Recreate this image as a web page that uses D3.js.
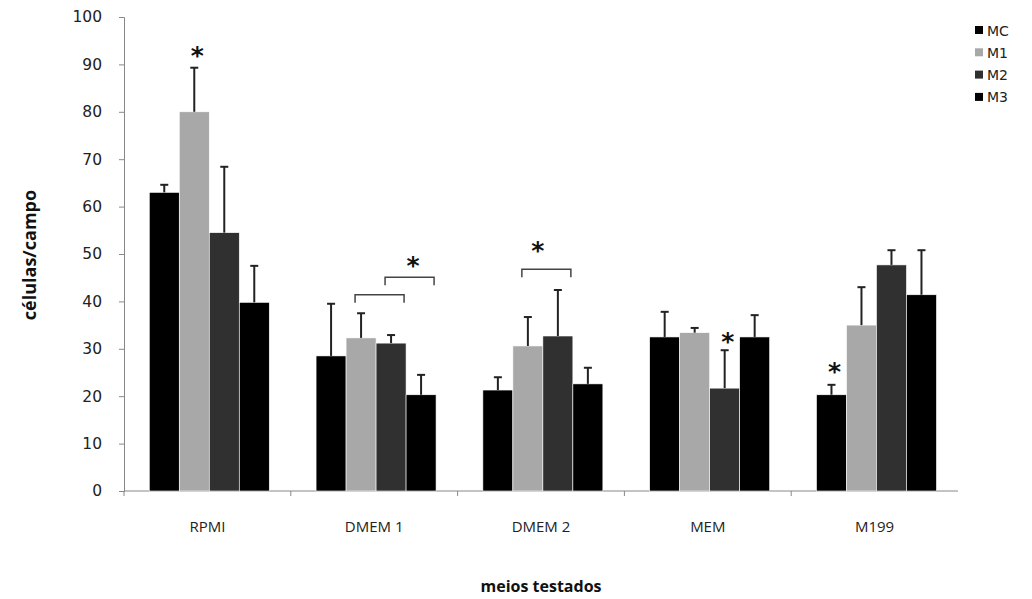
<!DOCTYPE html>
<html>
<head>
<meta charset="utf-8">
<script src="https://cdn.jsdelivr.net/npm/d3@7"></script>
<style>
  body { margin: 0; background: #fff; }
  svg { display: block; }
  .tick text { fill: #222; }
</style>
</head>
<body>
<div id="chart"></div>
<script>
const categories = ["RPMI", "DMEM 1", "DMEM 2", "MEM", "M199"];
const seriesNames = ["MC", "M1", "M2", "M3"];
const seriesColors = ["#000000", "#a8a8a8", "#303030", "#000000"];

// mean values per series, one per category
const MC = [63, 28.5, 21.3, 32.5, 20.3];
const M1 = [80, 32.3, 30.6, 33.4, 35];
const M2 = [54.5, 31.2, 32.7, 21.7, 47.7];
const M3 = [39.8, 20.3, 22.6, 32.5, 41.4];

// upper error (top of whisker)
const MC_err = [64.6, 39.5, 24, 37.8, 22.4];
const M1_err = [89.3, 37.5, 36.7, 34.4, 43];
const M2_err = [68.4, 32.9, 42.4, 29.7, 50.8];
const M3_err = [47.5, 24.5, 26, 37.1, 50.8];

const yTicks = [0, 10, 20, 30, 40, 50, 60, 70, 80, 90, 100];

// significance marks: [category, series, y]
const stars = [["RPMI", "M1", 93], ["DMEM 1", "M3", 48.7], ["DMEM 2", "M1", 51.9], ["MEM", "M2", 32.7], ["M199", "MC", 26.4]];
// brackets: [category, fromSeries, toSeries, y]
const brackets = [["DMEM 1", "M1", "M2", 41.4], ["DMEM 1", "M2", "M3", 45.1], ["DMEM 2", "M1", "M2", 46.8]];

const values = [MC, M1, M2, M3];
const errs = [MC_err, M1_err, M2_err, M3_err];

let rows = [];
categories.forEach((c, i) => {
  seriesNames.forEach((s, j) => {
    rows.push({ cat: c, series: s, value: values[j][i], err: errs[j][i], color: seriesColors[j] });
  });
});

const width = 1032, height = 599;
const svg = d3.select("#chart").append("svg")
  .attr("width", width).attr("height", height);

const xScale = d3.scaleBand().domain(categories).range([124, 958]);
const x1 = d3.scaleBand().domain(seriesNames)
  .range([0, xScale.bandwidth()])
  .paddingOuter(0.78).align(0.54);
const yScale = d3.scaleLinear().domain([0, 100]).range([491, 17]);

const starX = (c, s) => xScale(c) + x1(s) + x1.bandwidth() / 2;
const sx = d => starX(d.cat, d.series);

// axes
const yAxis = svg.append("g")
  .attr("transform", "translate(124,0)")
  .call(d3.axisLeft(yScale).tickValues(yTicks).tickSize(5).tickPadding(17));
yAxis.select(".domain").attr("stroke", "#888");
yAxis.selectAll(".tick line").attr("stroke", "#888");
yAxis.selectAll(".tick text")
  .style("font-family", "DejaVu Sans").style("font-size", "15.5px");

const xAxis = svg.append("g")
  .attr("transform", "translate(0,491)");
xAxis.append("line")
  .attr("x1", 124).attr("x2", 958)
  .attr("stroke", "#888");
xAxis.selectAll(".xtick")
  .data(categories)
  .enter()
  .append("line")
  .attr("x1", d => xScale(d)).attr("x2", d => xScale(d))
  .attr("y1", 0).attr("y2", 5)
  .attr("stroke", "#888");
xAxis.selectAll(".xlab")
  .data(categories)
  .enter()
  .append("text")
  .attr("x", d => xScale(d) + xScale.bandwidth() / 2)
  .attr("y", 41)
  .attr("text-anchor", "middle")
  .style("font-family", "Open Sans").style("font-size", "15px")
  .attr("fill", "#222")
  .text(d => d);

// bars
svg.append("g").selectAll("rect")
  .data(rows)
  .enter()
  .append("rect")
  .attr("x", d => xScale(d.cat) + x1(d.series))
  .attr("width", x1.bandwidth())
  .attr("y", d => yScale(d.value))
  .attr("height", d => yScale(0) - yScale(d.value))
  .attr("fill", d => d.color)
  .attr("stroke", "#fff").attr("stroke-width", 0.6);

// error bars
const eb = svg.append("g").attr("stroke", "#222").attr("stroke-width", 2);
eb.selectAll(".v").data(rows).enter().append("line")
  .attr("x1", sx).attr("x2", sx)
  .attr("y1", d => yScale(d.value)).attr("y2", d => yScale(d.err));
eb.selectAll(".cap").data(rows).enter().append("line")
  .attr("x1", d => sx(d) - 4).attr("x2", d => sx(d) + 4)
  .attr("y1", d => yScale(d.err)).attr("y2", d => yScale(d.err));

// brackets
svg.append("g").selectAll("path")
  .data(brackets)
  .enter()
  .append("path")
  .attr("fill", "none").attr("stroke", "#444").attr("stroke-width", 1.5)
  .attr("d", d => {
    let a = starX(d[0], d[1]) - 6, b = starX(d[0], d[2]) + 13;
    let y = yScale(d[3]), y2 = yScale(d[3] - 1.7);
    return `M${a},${y2}V${y}H${b}V${y2}`;
  });

// asterisks
svg.append("g").selectAll("text")
  .data(stars)
  .enter()
  .append("text")
  .attr("x", d => d[0] == "DMEM 1" ? starX(d[0], d[1]) - 8 : (d[0] == "DMEM 2" ? starX(d[0], d[1]) + 10 : starX(d[0], d[1]) + 3))
  .attr("y", d => yScale(d[2]) + 14)
  .attr("text-anchor", "middle")
  .style("font-family", "DejaVu Sans").style("font-size", "25px").style("font-weight", "bold")
  .attr("fill", "#111")
  .text("*");

// axis titles
svg.append("text")
  .attr("transform", "translate(36,255) rotate(-90)")
  .attr("text-anchor", "middle")
  .style("font-family", "Open Sans").style("font-size", "18px").style("font-weight", "bold")
  .attr("fill", "#111")
  .text("células/campo");
svg.append("text")
  .attr("x", 541).attr("y", 592)
  .attr("text-anchor", "middle")
  .style("font-family", "Open Sans").style("font-size", "16px").style("font-weight", "bold")
  .attr("fill", "#111")
  .text("meios testados");

// legend
const legend = svg.append("g").selectAll("g")
  .data(seriesNames)
  .enter()
  .append("g")
  .attr("transform", (d, i) => `translate(975,${30 + i * 22.3})`);
legend.append("rect")
  .attr("x", 0).attr("y", -4).attr("width", 8).attr("height", 8)
  .attr("fill", (d, i) => seriesColors[i]);
legend.append("text")
  .attr("x", 12).attr("y", 5.5)
  .style("font-family", "DejaVu Sans").style("font-size", "14px")
  .attr("fill", "#222")
  .text(d => d);
</script>
</body>
</html>
